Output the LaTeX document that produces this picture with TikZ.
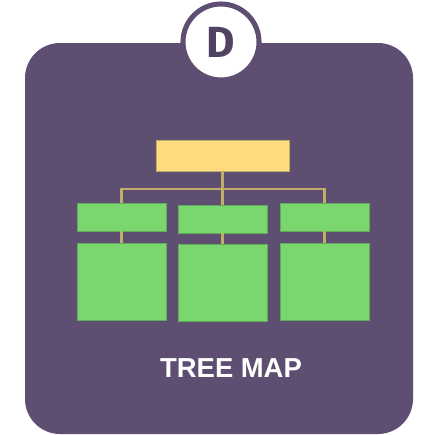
\documentclass[tikz,border=0pt]{standalone}
\usepackage{fontspec}
\setmainfont{Liberation Sans}
\newfontfamily\badgefont{Fira Sans}
\usetikzlibrary{positioning}
\definecolor{cardpurple}{HTML}{5E4F72}
\definecolor{rootyellow}{HTML}{FEDC7E}
\definecolor{leafgreen}{HTML}{7AD66E}
\definecolor{linktan}{HTML}{C0AE68}
\tikzset{
  root/.style = {draw=linktan, fill=rootyellow, minimum width=3.325cm, minimum height=0.775cm, inner sep=0pt},
  head/.style = {draw=leafgreen!80!black, fill=leafgreen, minimum width=2.225cm, minimum height=0.7cm, inner sep=0pt},
  body/.style = {draw=leafgreen!80!black, fill=leafgreen, minimum width=2.225cm, minimum height=1.925cm, inner sep=0pt},
  link/.style = {draw=linktan, line width=1.7pt}
}

\begin{document}
\begin{tikzpicture}[x=0.025cm, y=-0.025cm]
\useasboundingbox (0,0) rectangle (424,435);
% card
\fill[cardpurple, rounded corners=0.875cm] (25,43) rectangle (413,434);
\node[circle, fill=white, draw=cardpurple, line width=3.6pt, minimum size=1.9cm] (badge) at (221,42) {};
\node[text=cardpurple!85!black, font=\badgefont\bfseries\fontsize{31}{31}\selectfont] (letter) at (badge) {D};
% tree
\node[root] (top) at (222.5,155.5) {};
\node[head] (sL) at (121.5,217) {};
\node[head] (sM) at (222.5,219) {};
\node[head] (sR) at (324.5,217) {};
\node[body] (bL) at (121.5,281.5) {};
\node[body] (bM) at (222.5,283) {};
\node[body] (bR) at (324.5,281.5) {};
\coordinate (bar) at (222.5,189);
\draw[link] (top) -- (bar);
\draw[link] (bar) -| (sL);
\draw[link] (bar) -| (sR);
\draw[link] (bar) -- (sM);
\draw[link] (sL) -- (bL);
\draw[link] (sM) -- (bM);
\draw[link] (sR) -- (bR);
% title
\node[text=white, font=\bfseries\fontsize{19.5}{20}\selectfont] (title) at (231,368) {TREE MAP};
\end{tikzpicture}
\end{document}
